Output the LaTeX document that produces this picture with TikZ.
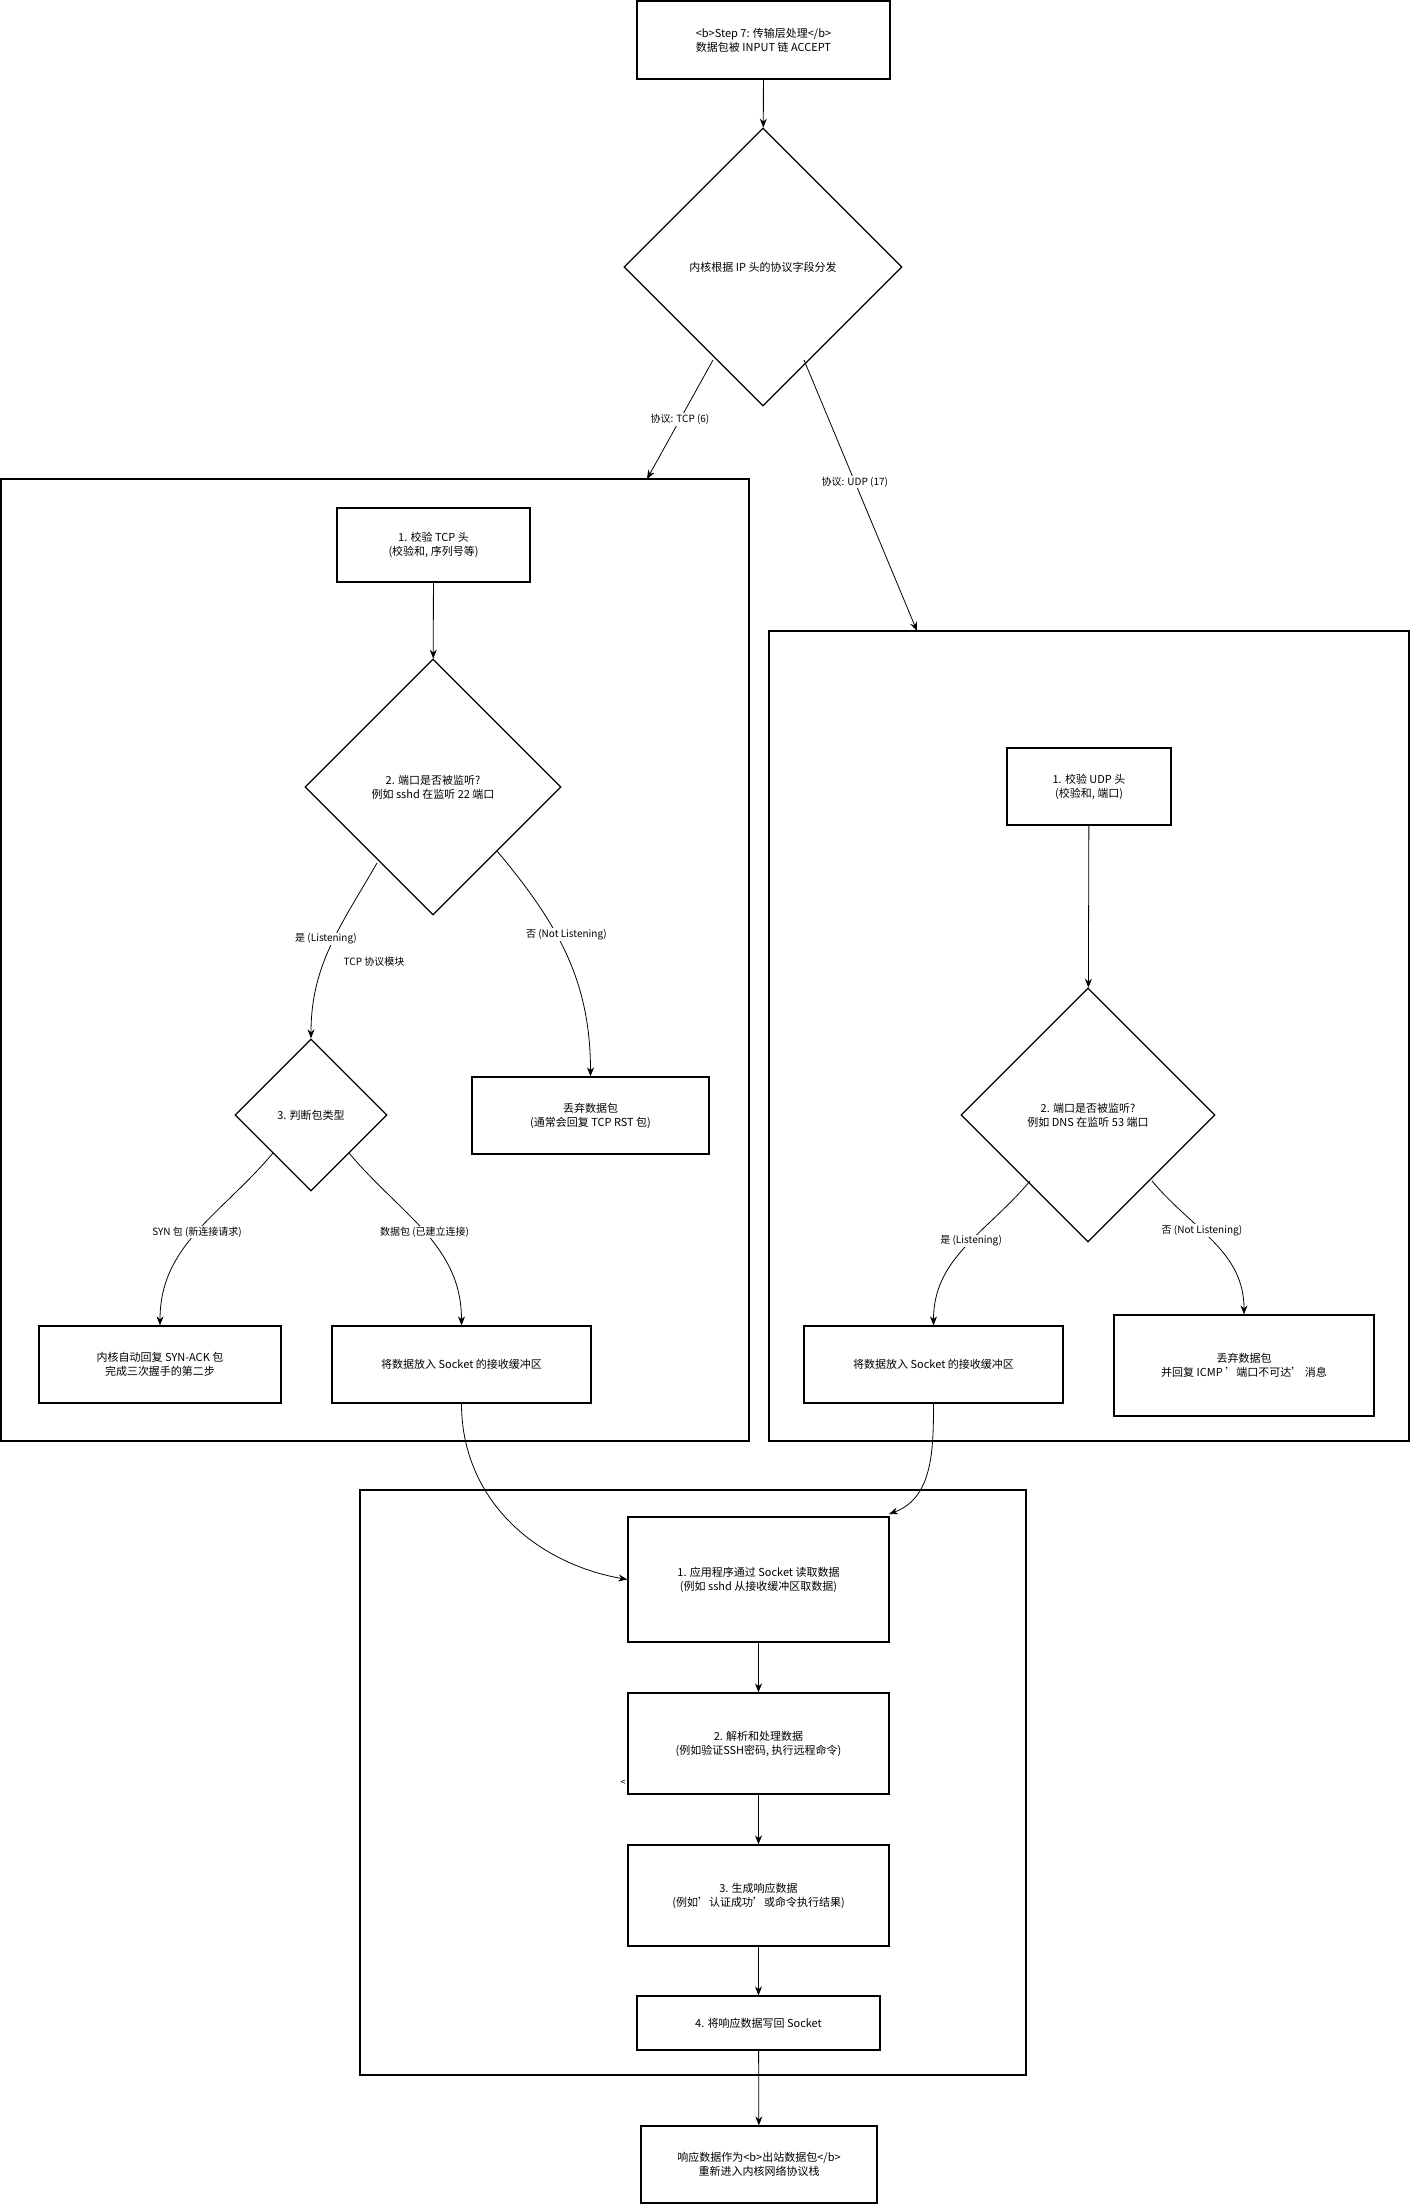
\documentclass[tikz,border=0pt]{standalone}
\usepackage{fontspec}
\setmainfont{Noto Sans CJK SC}
\usetikzlibrary{shapes.geometric,arrows.meta}
\begin{document}
\begin{tikzpicture}[x=1pt,y=1pt,
  every node/.style={font=\fontsize{11}{14}\selectfont,align=center},
  box/.style={draw,line width=1.3pt,inner sep=0pt},
  cont/.style={draw,line width=1.3pt,inner sep=0pt},
  dia/.style={draw,diamond,line width=1.3pt,inner sep=0pt},
  ar/.style={-{Stealth[length=9pt,width=7pt]},line width=0.8pt},
  lab/.style={fill=white,inner sep=1pt,font=\fontsize{10}{12}\selectfont}]
\useasboundingbox (0,0) rectangle (1410,-2204);
\fill[white] (0,0) rectangle (1410,-2204);
% containers
\node[cont,minimum width=748,minimum height=962] (tcp) at (375,-960) {};
\node[cont,minimum width=640,minimum height=810] (udp) at (1089,-1036) {};
\node[cont,minimum width=666,minimum height=585] (app) at (693,-1782.5) {};
% top
\node[box,minimum width=253,minimum height=78] (top) at (763.5,-40) {<b>Step 7: 传输层处理</b>\\数据包被 INPUT 链 ACCEPT};
\node[dia,minimum width=278,minimum height=278] (d1) at (763,-267) {内核根据 IP 头的协议字段分发};
% TCP
\node[box,minimum width=193,minimum height=74] (t1) at (433.5,-545) {1. 校验 TCP 头\\(校验和, 序列号等)};
\node[dia,minimum width=256,minimum height=256] (d2) at (433,-787) {2. 端口是否被监听?\\例如 sshd 在监听 22 端口};
\node[dia,minimum width=152,minimum height=152] (d3) at (311,-1115) {3. 判断包类型};
\node[box,minimum width=237,minimum height=77] (drop) at (590.5,-1115.5) {丢弃数据包\\(通常会回复 TCP RST 包)};
\node[box,minimum width=242,minimum height=77] (syn) at (160,-1364.5) {内核自动回复 SYN-ACK 包\\完成三次握手的第二步};
\node[box,minimum width=259,minimum height=77] (tdata) at (461.5,-1364.5) {将数据放入 Socket 的接收缓冲区};
% UDP
\node[box,minimum width=164,minimum height=77] (u1) at (1089,-786.5) {1. 校验 UDP 头\\(校验和, 端口)};
\node[dia,minimum width=254,minimum height=254] (du) at (1088,-1115) {2. 端口是否被监听?\\例如 DNS 在监听 53 端口};
\node[box,minimum width=259,minimum height=77] (udata) at (933.5,-1364.5) {将数据放入 Socket 的接收缓冲区};
\node[box,minimum width=260,minimum height=101] (udrop) at (1244,-1365.5) {丢弃数据包\\并回复 ICMP '端口不可达' 消息};
% app
\node[box,minimum width=261,minimum height=125] (a1) at (758.5,-1579.5) {1. 应用程序通过 Socket 读取数据\\(例如 sshd 从接收缓冲区取数据)};
\node[box,minimum width=261,minimum height=101] (a2) at (758.5,-1743.5) {2. 解析和处理数据\\(例如验证SSH密码, 执行远程命令)};
\node[font=\fontsize{9}{10}\selectfont] (lt) at (623,-1783) {<};
\node[box,minimum width=261,minimum height=101] (a3) at (758.5,-1895.5) {3. 生成响应数据\\(例如'认证成功'或命令执行结果)};
\node[box,minimum width=243,minimum height=54] (a4) at (758.5,-2023) {4. 将响应数据写回 Socket};
\node[box,minimum width=236,minimum height=77] (fin) at (759,-2164.5) {响应数据作为<b>出站数据包</b>\\重新进入内核网络协议栈};
% coordinates
\coordinate (p1) at (713,-360); \coordinate (q1) at (647,-479);
\coordinate (p2) at (804,-360); \coordinate (q2) at (917,-631);
\coordinate (p3) at (377,-863); \coordinate (p4) at (497,-851);
\coordinate (p5) at (273,-1153); \coordinate (p6) at (349,-1153);
\coordinate (p7) at (1030,-1181); \coordinate (p8) at (1152,-1181);
\coordinate (q9) at (889,-1514);
% edges
\draw[ar] (top) -- (d1);
\draw[ar] (p1) -- node[lab,pos=0.5] {协议: TCP (6)} (q1);
\draw[ar] (p2) -- node[lab,pos=0.45] {协议: UDP (17)} (q2);
\draw[ar] (t1) -- (d2);
\draw[ar] (p3) to[out=-120,in=90] node[lab,pos=0.45,xshift=-8] {是 (Listening)} (d3.north);
\node[lab] at (374,-962) {TCP 协议模块};
\draw[ar] (p4) to[out=-50,in=90] node[lab,pos=0.4,xshift=10] {否 (Not Listening)} (drop.north);
\draw[ar] (p5) to[out=-130,in=90] node[lab,pos=0.5] {SYN 包 (新连接请求)} (syn.north);
\draw[ar] (p6) to[out=-50,in=90] node[lab,pos=0.5] {数据包 (已建立连接)} (tdata.north);
\draw[ar] (u1) -- (du);
\draw[ar] (p7) to[out=-130,in=90] node[lab,pos=0.45] {是 (Listening)} (udata.north);
\draw[ar] (p8) to[out=-50,in=90] node[lab,pos=0.4] {否 (Not Listening)} (udrop.north);
\draw[ar] (tdata.south) to[out=-90,in=170] (a1.west);
\draw[ar] (udata.south) to[out=-90,in=20] (q9);
\draw[ar] (a1) -- (a2);
\draw[ar] (a2) -- (a3);
\draw[ar] (a3) -- (a4);
\draw[ar] (a4) -- (fin);
\end{tikzpicture}
\end{document}
